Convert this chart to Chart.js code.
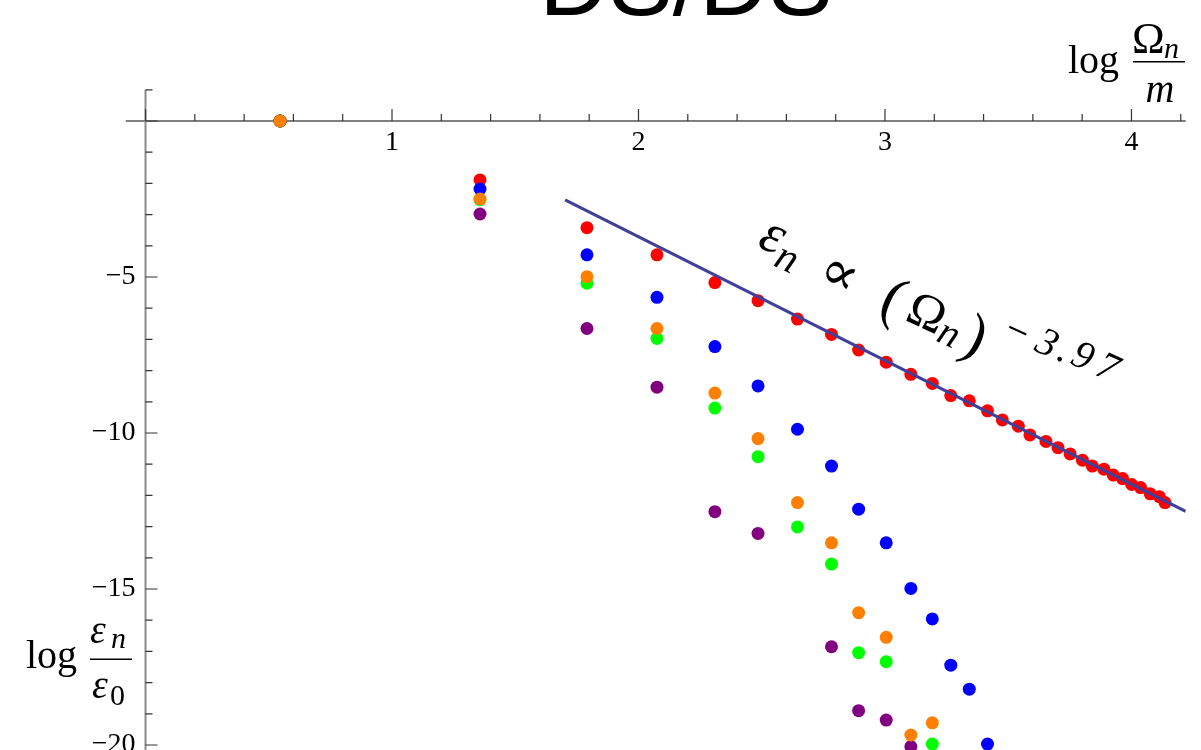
<!DOCTYPE html>
<html>
<head>
<meta charset="utf-8">
<script src="https://cdn.jsdelivr.net/npm/chart.js@4/dist/chart.umd.min.js"></script>
<style>
  body { margin: 0; background: #fff; }
  canvas { display: block; }
</style>
</head>
<body>
<canvas id="chart" width="1201" height="750"></canvas>
<script>
// log(Omega_n / m) positions of the modes
const redX = [0.546, 1.357, 1.791, 2.075, 2.310, 2.485, 2.645, 2.783, 2.893, 3.005, 3.105,
              3.192, 3.267, 3.342, 3.416, 3.476, 3.541, 3.588, 3.653, 3.702, 3.751, 3.801,
              3.841, 3.888, 3.926, 3.964, 4.001, 4.037, 4.076, 4.113, 4.136];
const redY = [0, -1.89, -3.42, -4.29, -5.18, -5.76, -6.35, -6.84, -7.34, -7.73, -8.12,
              -8.41, -8.80, -8.97, -9.29, -9.58, -9.78, -10.06, -10.27, -10.47, -10.67, -10.87,
              -11.06, -11.16, -11.35, -11.46, -11.65, -11.75, -11.95, -12.04, -12.23];

const blueX = [0.546, 1.357, 1.791, 2.075, 2.310, 2.485, 2.645, 2.783, 2.893, 3.005, 3.105,
               3.192, 3.267, 3.342, 3.416];
const blueY = [0, -2.18, -4.29, -5.65, -7.23, -8.49, -9.88, -11.06, -12.44, -13.52, -14.98,
               -15.96, -17.44, -18.21, -19.97];

const orangeX = [0.546, 1.357, 1.791, 2.075, 2.310, 2.485, 2.645, 2.783, 2.893, 3.005, 3.105, 3.192];
const orangeY = [0, -2.50, -4.99, -6.65, -8.72, -10.18, -12.23, -13.52, -15.76, -16.55, -19.68, -19.29];

const greenX = [0.546, 1.357, 1.791, 2.075, 2.310, 2.485, 2.645, 2.783, 2.893, 3.005, 3.192];
const greenY = [0, -2.52, -5.20, -6.97, -9.20, -10.76, -13.01, -14.20, -17.04, -17.33, -19.97];

const purpleX = [0.546, 1.357, 1.791, 2.075, 2.310, 2.485, 2.783, 2.893, 3.005, 3.105];
const purpleY = [0, -2.98, -6.65, -8.53, -12.52, -13.22, -16.85, -18.90, -19.20, -20.05];

// power-law fit for the red series
const fitX = [1.702, 4.22];
const fitY = [-2.53, -12.51];

const xTickLabels = ['1', '2', '3', '4'];
const yTickLabels = ['\u22125', '\u221210', '\u221215', '\u221220'];

const serif = '"Liberation Serif", "DejaVu Serif", serif';

function pts(xs, ys) {
  return xs.map((v, i) => ({ x: v, y: ys[i] }));
}

function dots(data, color, order) {
  return {
    type: 'scatter',
    data: data,
    backgroundColor: color,
    pointRadius: 6.5,
    pointBorderWidth: 0,
    order: order
  };
}

// axes through the origin, Mathematica style
const axesPlugin = {
  id: 'originAxes',
  beforeDatasetsDraw(chart) {
    const { ctx, chartArea: a, scales: { x, y } } = chart;
    const x0 = x.getPixelForValue(0);
    const y0 = y.getPixelForValue(0);
    ctx.save();
    ctx.strokeStyle = '#555';
    ctx.lineWidth = 1.5;
    ctx.beginPath();
    ctx.moveTo(a.left, y0);
    ctx.lineTo(a.right, y0);
    ctx.stroke();
    ctx.strokeStyle = '#8a8a8a';
    ctx.lineWidth = 2;
    ctx.beginPath();
    ctx.moveTo(x0, a.top);
    ctx.lineTo(x0, a.bottom);
    ctx.stroke();

    ctx.strokeStyle = '#333';
    ctx.lineWidth = 1.2;
    ctx.beginPath();
    for (let i = 0; i <= 21; i++) {
      const px = x.getPixelForValue(i * 0.2);
      ctx.moveTo(px, y0);
      ctx.lineTo(px, y0 - (i % 5 === 0 ? 12 : 7));
    }
    for (let v = 1; v >= -20; v--) {
      const py = y.getPixelForValue(v);
      ctx.moveTo(x0, py);
      ctx.lineTo(x0 + (v % 5 === 0 ? 12 : 7), py);
    }
    ctx.stroke();

    ctx.fillStyle = '#000';
    ctx.font = '28px ' + serif;
    ctx.textAlign = 'center';
    ctx.textBaseline = 'middle';
    xTickLabels.forEach((t, i) => {
      ctx.fillText(t, x.getPixelForValue(i + 1), y0 + 22);
    });
    ctx.textAlign = 'right';
    yTickLabels.forEach((t, i) => {
      ctx.fillText(t, x0 - 10, y.getPixelForValue(-5 * (i + 1)));
    });
    ctx.restore();
  },
  afterDraw(chart) {
    const { ctx, scales: { x, y } } = chart;
    ctx.save();
    ctx.fillStyle = '#000';
    ctx.textBaseline = 'alphabetic';

    // title
    ctx.font = '96px "Liberation Sans", Arial, sans-serif';
    ctx.textAlign = 'center';
    ctx.fillText('DS/DS', 686, 15);

    // x axis title: log Omega_n / m
    ctx.textAlign = 'left';
    ctx.font = '40px ' + serif;
    ctx.fillText('log', 1068, 73);
    ctx.font = '44px ' + serif;
    ctx.fillText('\u03A9', 1132, 53);
    ctx.font = 'italic 30px ' + serif;
    ctx.fillText('n', 1164, 58);
    ctx.font = 'italic 40px ' + serif;
    ctx.textAlign = 'center';
    ctx.fillText('m', 1160, 102);
    ctx.fillRect(1133, 61, 52, 1.5);

    // y axis title: log eps_n / eps_0
    ctx.textAlign = 'left';
    ctx.font = '40px ' + serif;
    ctx.fillText('log', 26, 668);
    ctx.font = 'italic 40px ' + serif;
    ctx.fillText('\u03B5', 90, 643);
    ctx.fillText('\u03B5', 92, 698);
    ctx.font = 'italic 30px ' + serif;
    ctx.fillText('n', 111, 648);
    ctx.font = '30px ' + serif;
    ctx.fillText('0', 110, 705);
    ctx.fillRect(90, 658.5, 42, 1.5);

    // fit annotation along the line
    ctx.translate(x.getPixelForValue(2.452), y.getPixelForValue(-3.91));
    ctx.rotate(24.5 * Math.PI / 180);
    ctx.textAlign = 'center';
    const put = (txt, font, along, base) => {
      ctx.font = font;
      ctx.fillText(txt, along, base);
    };
    put('\u03B5', 'italic 56px ' + serif, 18, 0);
    put('n', 'italic 42px ' + serif, 40, 11);
    put('\u221D', '56px ' + serif, 94, 8);
    put('(', '60px ' + serif, 154, 10);
    put('\u03A9', '50px ' + serif, 190, 6);
    put('n', 'italic 40px ' + serif, 219, 12);
    put(')', '60px ' + serif, 244, 10);
    put('\u2212', '40px ' + serif, 280, -18);
    put('3', 'italic 40px ' + serif, 312, -20);
    put('.', 'italic 40px ' + serif, 331, -21);
    put('9', 'italic 40px ' + serif, 350, -23);
    put('7', 'italic 40px ' + serif, 377, -23);
    ctx.restore();
  }
};

new Chart(document.getElementById('chart'), {
  data: {
    datasets: [
      {
        type: 'line',
        data: pts(fitX, fitY),
        borderColor: '#40409a',
        borderWidth: 3,
        pointRadius: 0,
        fill: false,
        order: 0
      },
      dots(pts(orangeX, orangeY), '#ff8000', 1),
      dots(pts(purpleX, purpleY), '#800080', 2),
      dots(pts(greenX, greenY), '#00ff00', 3),
      dots(pts(blueX, blueY), '#0000ff', 4),
      dots(pts(redX, redY), '#ff0000', 5)
    ]
  },
  options: {
    responsive: false,
    animation: false,
    events: [],
    layout: {
      autoPadding: false,
      padding: { left: 125.8, top: 89.8, right: 15.3, bottom: 0 }
    },
    scales: {
      x: { type: 'linear', min: -0.08, max: 4.22, display: false },
      y: { type: 'linear', min: -20.16, max: 1, display: false }
    },
    plugins: {
      legend: { display: false },
      tooltip: { enabled: false }
    }
  },
  plugins: [axesPlugin]
});
</script>
</body>
</html>
